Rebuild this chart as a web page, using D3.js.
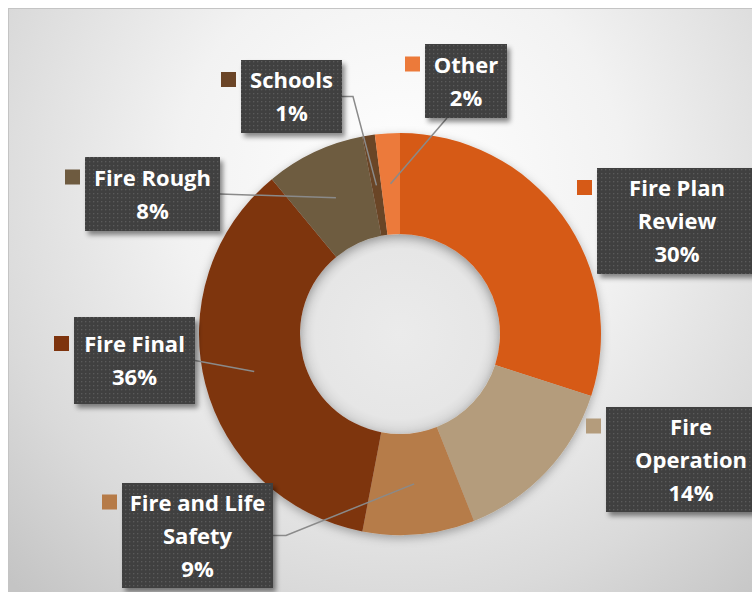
<!DOCTYPE html>
<html>
<head>
<meta charset="utf-8">
<script src="https://cdn.jsdelivr.net/npm/d3@7"></script>
<style>
  body { margin: 0; background: #fff; }
  svg { display: block; }
</style>
</head>
<body>
<svg id="chart" width="752" height="592"></svg>
<script>
// slice data, clockwise from 12 o'clock
const categories = ["Fire Plan Review", "Fire Operation", "Fire and Life Safety", "Fire Final", "Fire Rough", "Schools", "Other"];
const shares = [30, 14, 9, 36, 8, 1, 2];
const percentLabels = ["30%", "14%", "9%", "36%", "8%", "1%", "2%"];
const sliceColors = ["#d65a17", "#b49c7c", "#b67b48", "#7e340e", "#6e5b40", "#6b4527", "#ec7a3a"];

// hand-placed data label boxes (like the Excel original)
const labelLayout = {
    "Fire Plan Review":     { x: 597, y: 168, w: 160, h: 106, lines: ["Fire Plan", "Review"] },
    "Fire Operation":       { x: 606, y: 407, w: 170, h: 105, lines: ["Fire", "Operation"] },
    "Fire and Life Safety": { x: 122, y: 483, w: 151, h: 105, lines: ["Fire and Life", "Safety"], leader: { side: "right", elbow: 13 } },
    "Fire Final":           { x: 74,  y: 317, w: 121, h: 87,  lines: ["Fire Final"], leader: { side: "right", elbow: 0 } },
    "Fire Rough":           { x: 85,  y: 157, w: 135, h: 74,  lines: ["Fire Rough"], leader: { side: "right", elbow: 0 } },
    "Schools":              { x: 241, y: 60,  w: 101, h: 73,  lines: ["Schools"], leader: { side: "right", elbow: 11 } },
    "Other":                { x: 425, y: 44,  w: 82,  h: 74,  lines: ["Other"], leader: { side: "bottom", at: 22 } }
};

const svg = d3.select("#chart");
const cx = 400, cy = 334, rOuter = 201, rInner = 100;
const lineH = 33;

const defs = svg.append("defs");

const bg = defs.append("radialGradient")
    .attr("id", "bgGrad")
    .attr("gradientUnits", "userSpaceOnUse")
    .attr("cx", 400).attr("cy", 180).attr("r", 560);
[[0, "#ffffff"], [0.4, "#f2f2f2"], [0.75, "#dadada"], [1, "#c4c4c4"]]
    .forEach(([o, c]) => bg.append("stop").attr("offset", o).attr("stop-color", c));

// the hole picks up the donut's shadow in the original
const hole = defs.append("radialGradient").attr("id", "holeGrad");
[[0, "#ebebeb"], [0.85, "#e6e6e6"], [1, "#d6d6d6"]]
    .forEach(([o, c]) => hole.append("stop").attr("offset", o).attr("stop-color", c));

const pat = defs.append("pattern")
    .attr("id", "dots")
    .attr("patternUnits", "userSpaceOnUse")
    .attr("width", 4).attr("height", 4);
pat.append("rect").attr("width", 4).attr("height", 4).attr("fill", "#404040");
pat.append("rect").attr("x", 1).attr("y", 1).attr("width", 1.3).attr("height", 1.3).attr("fill", "#5a5a5a");

defs.append("filter").attr("id", "boxShadow")
    .attr("x", "-20%").attr("y", "-20%").attr("width", "150%").attr("height", "150%")
    .append("feDropShadow")
    .attr("dx", 3).attr("dy", 4).attr("stdDeviation", 2.5)
    .attr("flood-color", "#000").attr("flood-opacity", 0.45);

defs.append("filter").attr("id", "donutShadow")
    .attr("x", "-20%").attr("y", "-20%").attr("width", "140%").attr("height", "140%")
    .append("feDropShadow")
    .attr("dx", 0).attr("dy", 3).attr("stdDeviation", 5)
    .attr("flood-color", "#000").attr("flood-opacity", 0.3);

// chart area
svg.append("rect")
    .attr("x", 8.5).attr("y", 8.5)
    .attr("width", 800).attr("height", 640)
    .attr("fill", "url(#bgGrad)")
    .attr("stroke", "#c4c4c4");

// donut
const color = d3.scaleOrdinal().domain(categories).range(sliceColors);
const pie = d3.pie().sort(null).value(d => d.value);
const arc = d3.arc().innerRadius(rInner).outerRadius(rOuter);

const data = categories.map((c, i) => ({ name: c, value: shares[i], pct: percentLabels[i] }));
const arcs = pie(data);

const g = svg.append("g").attr("transform", `translate(${cx},${cy})`);
g.append("circle").attr("r", rInner).attr("fill", "url(#holeGrad)");
g.append("g")
    .attr("filter", "url(#donutShadow)")
    .selectAll("path")
    .data(arcs)
    .join("path")
    .attr("d", arc)
    .attr("fill", d => color(d.data.name));

// leader lines
const leaders = svg.append("g")
    .attr("fill", "none")
    .attr("stroke", "#8a8a8a")
    .attr("stroke-width", 1.5);

arcs.forEach(a => {
    const L = labelLayout[a.data.name];
    if (!L.leader) return;
    const [ex, ey] = arc.centroid(a);
    const end = [cx + ex, cy + ey];
    let pts;
    if (L.leader.side === "bottom") {
        pts = [[L.x + L.leader.at, L.y + L.h], end];
    } else {
        const sx = L.x + L.w, sy = L.y + L.h / 2;
        pts = L.leader.elbow ? [[sx, sy], [sx + L.leader.elbow, sy], end] : [[sx, sy], end];
    }
    leaders.append("path").attr("d", d3.line()(pts));
});

// label boxes
const labels = svg.append("g")
    .selectAll("g")
    .data(arcs)
    .join("g");

labels.append("rect")
    .attr("x", d => labelLayout[d.data.name].x)
    .attr("y", d => labelLayout[d.data.name].y)
    .attr("width", d => labelLayout[d.data.name].w)
    .attr("height", d => labelLayout[d.data.name].h)
    .attr("fill", "url(#dots)")
    .attr("filter", "url(#boxShadow)");

// legend key squares
labels.append("rect")
    .attr("x", d => labelLayout[d.data.name].x - 20)
    .attr("y", d => {
        const L = labelLayout[d.data.name];
        const n = L.lines.length + 1;
        return L.y + L.h / 2 - (n - 1) * lineH / 2 - 8;
    })
    .attr("width", 15).attr("height", 15)
    .attr("fill", d => color(d.data.name));

labels.each(function(d) {
    const L = labelLayout[d.data.name];
    const rows = L.lines.concat([d.data.pct]);
    const top = L.y + L.h / 2 - (rows.length - 1) * lineH / 2;
    d3.select(this).append("text")
        .attr("text-anchor", "middle")
        .attr("fill", "#ffffff")
        .style("font-family", "'Open Sans', sans-serif")
        .style("font-weight", 700)
        .style("font-size", "22px")
        .selectAll("tspan")
        .data(rows)
        .join("tspan")
        .attr("x", L.x + L.w / 2)
        .attr("y", (r, i) => top + i * lineH + 8)
        .text(r => r);
});
</script>
</body>
</html>
